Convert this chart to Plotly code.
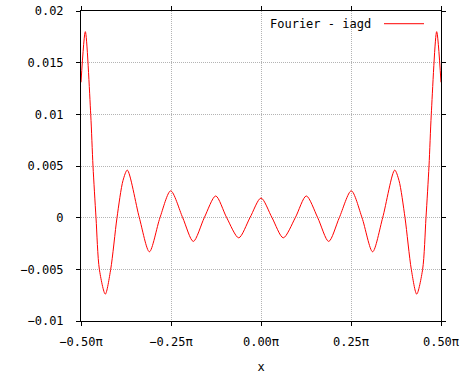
import plotly.graph_objects as go

# x in units of pi, y = approximation error
x_pi = [-0.5, -0.488, -0.473, -0.4667, -0.4583, -0.449, -0.4325, -0.4175, -0.400, -0.3833,
        -0.3714, -0.338, -0.310, -0.2806, -0.2508, -0.2175, -0.188, -0.1575, -0.1258,
        -0.0953, -0.0619, -0.0306, 0.0,
        0.0306, 0.0619, 0.0953, 0.1258, 0.1575, 0.188, 0.2175, 0.2508, 0.2806, 0.310,
        0.338, 0.3714, 0.3833, 0.400, 0.4175, 0.4325, 0.449, 0.4583, 0.4667, 0.473,
        0.488, 0.5]
err = [0.0131, 0.0180, 0.0100, 0.0050, 0.0, -0.0050, -0.0074, -0.0050, 0.0, 0.0036,
       0.0046, 0.0, -0.0033, 0.0, 0.0026, 0.0, -0.0023, 0.0, 0.0021,
       0.0, -0.00195, 0.0, 0.0019,
       0.0, -0.00195, 0.0, 0.0021, 0.0, -0.0023, 0.0, 0.0026, 0.0, -0.0033,
       0.0, 0.0046, 0.0036, 0.0, -0.0050, -0.0074, -0.0050, 0.0, 0.0050, 0.0100,
       0.0180, 0.0131]

x_tickvals = [-0.5, -0.25, 0.0, 0.25, 0.5]
x_ticktext = ["−0.50π", "−0.25π", "0.00π", "0.25π", "0.50π"]
y_tickvals = [0.02, 0.015, 0.01, 0.005, 0.0, -0.005, -0.01]
y_ticktext = ["0.02", "0.015", "0.01", "0.005", "0", "−0.005", "−0.01"]
series_name = "Fourier - iagd"

FONT = "DejaVu Sans Mono"
L, R, T, B = 81, 32, 4, 58
W, H = 473, 379
pw, ph = W - L - R, H - T - B

fig = go.Figure()
fig.add_trace(go.Scatter(x=x_pi, y=err, mode="lines", name=series_name,
                         line=dict(color="#ff0000", width=1, shape="spline", smoothing=0.8),
                         showlegend=False, hoverinfo="skip"))

axis_common = dict(showline=True, linecolor="black", linewidth=1, mirror="ticks",
                   ticks="outside", ticklen=4, tickcolor="black", tickwidth=1,
                   showgrid=True, gridcolor="#b4b4b4", griddash="1px,1px", gridwidth=1,
                   zeroline=False, tickfont=dict(family=FONT, size=12, color="black"))

fig.update_layout(
    width=W, height=H, margin=dict(l=L, r=R, t=T, b=B),
    paper_bgcolor="white", plot_bgcolor="white",
    xaxis=dict(range=[-0.5, 0.5], tickvals=x_tickvals, ticktext=x_ticktext,
               title=dict(text="x", font=dict(family=FONT, size=12, color="black"), standoff=14),
               ticklabelstandoff=6, **axis_common),
    yaxis=dict(range=[-0.01, 0.02], tickvals=y_tickvals, ticktext=y_ticktext,
               ticklabelstandoff=10, **axis_common),
    font=dict(family=FONT, size=12, color="black"),
)

# gnuplot-style key: text then line sample
key_y = (H - B - 17) / ph
fig.add_annotation(xref="paper", yref="paper", x=(373 - L) / pw, y=key_y,
                   text=series_name, showarrow=False, xanchor="right", yanchor="middle",
                   font=dict(family=FONT, size=12, color="black"))
fig.add_shape(type="line", xref="paper", yref="paper",
              x0=(384 - L) / pw, x1=(424 - L) / pw, y0=key_y, y1=key_y,
              line=dict(color="#ff0000", width=1))

fig.write_html("out.html")
